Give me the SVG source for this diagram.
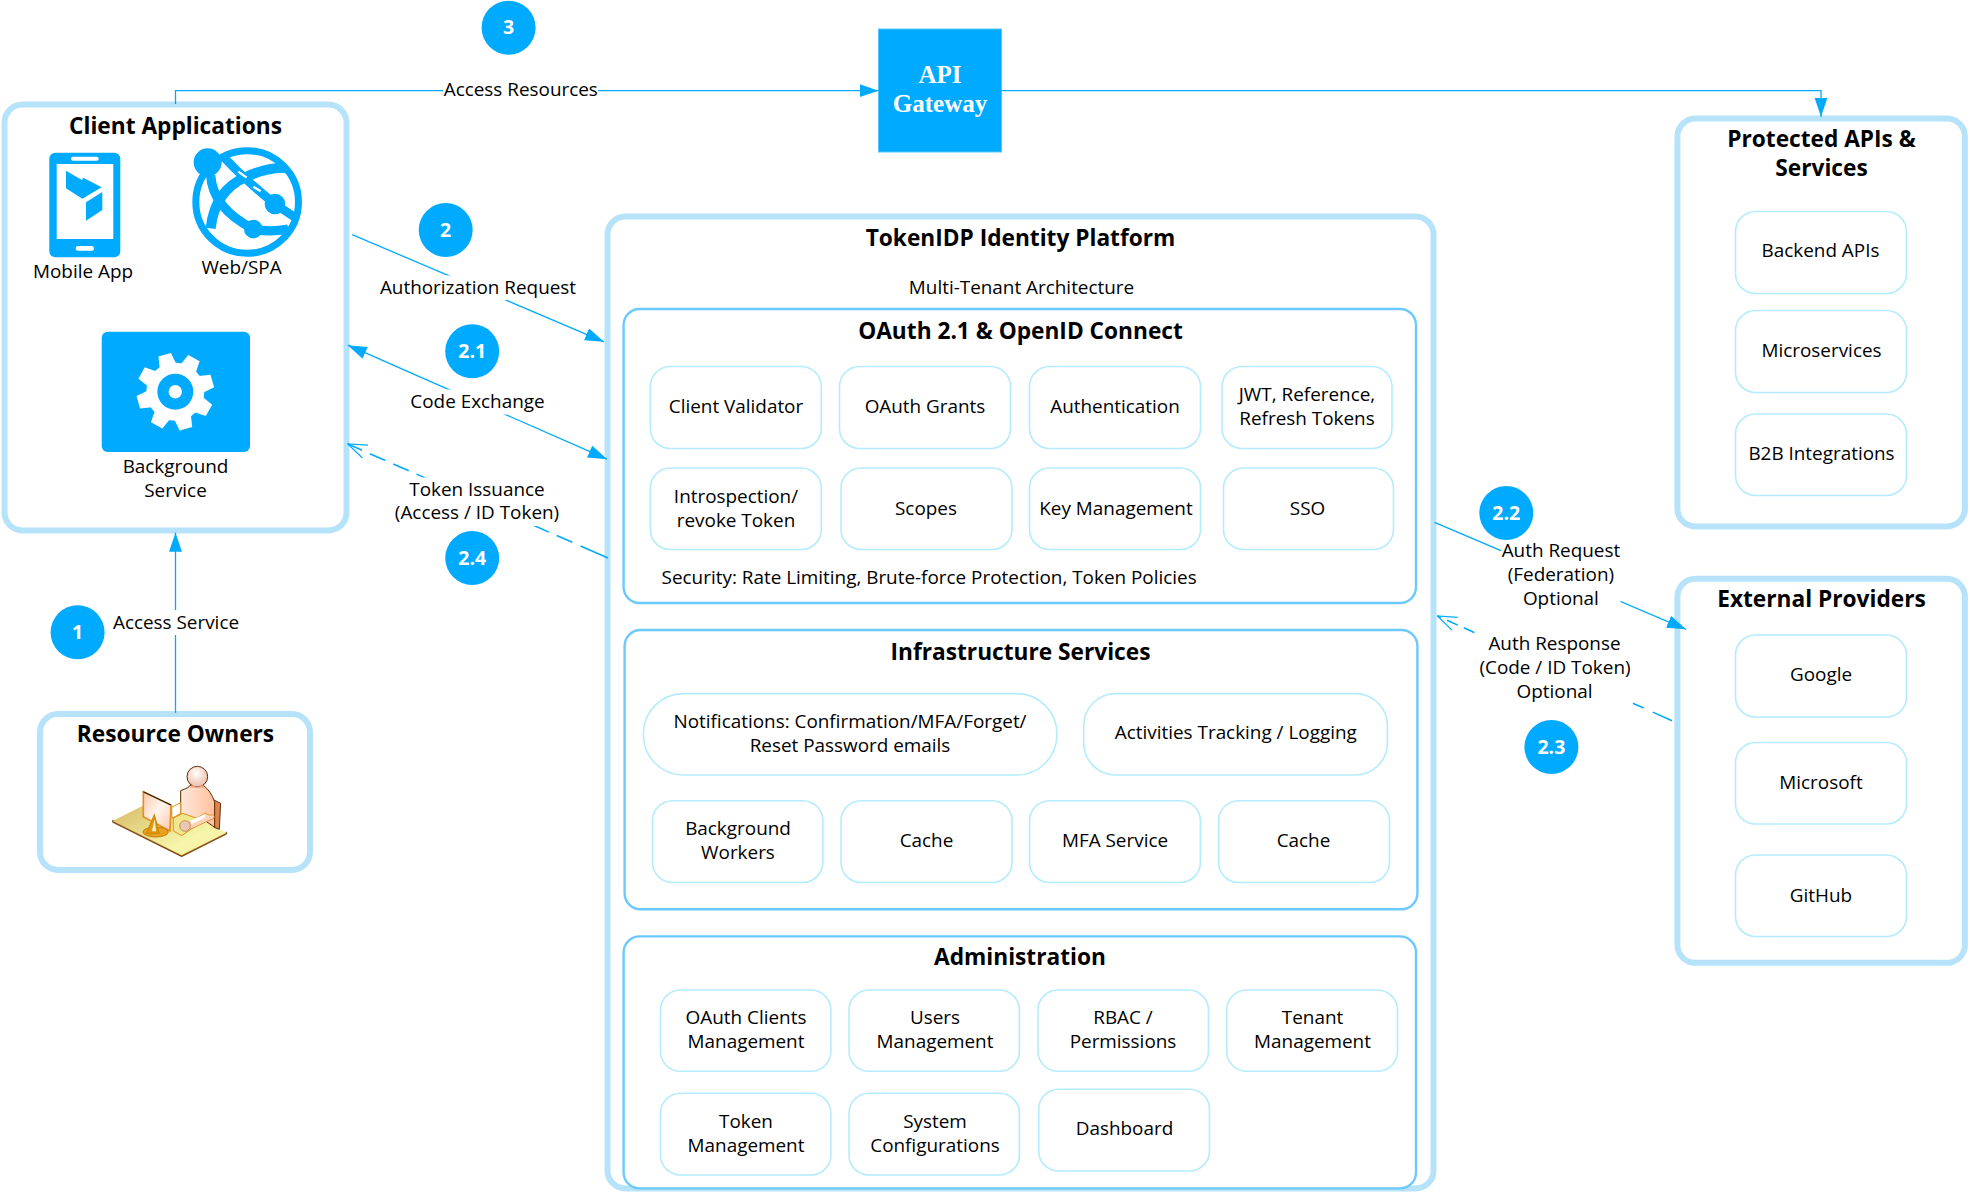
<svg xmlns="http://www.w3.org/2000/svg" width="1970" height="1192" viewBox="0 0 1970 1192">
<style>
text{font-family:"Open Sans","Noto Sans","Liberation Sans",sans-serif;fill:#000;text-anchor:middle}
.t{font-size:18.9px;transform:translateY(-.2px)}
.h{font-size:22.7px;font-weight:700}
.b{font-size:19.5px;font-weight:700;fill:#fff}
.g{font-family:"Liberation Serif",serif;font-size:25px;font-weight:700;fill:#fff}
.outer{fill:#fff;stroke:#B7E3FA;stroke-width:6}
.mid{fill:#fff;stroke:#6CC9FF;stroke-width:2.4}
.in{fill:#fff;stroke:#B5EBFF;stroke-width:1.6}
.c{fill:none;stroke:#00AAFF;stroke-width:1.3}
.d{stroke-width:1.6}
.lb{fill:#fff}
.bl{fill:#00AAFF}
.wh{fill:#fff}
</style>
<defs>
<marker id="a" markerUnits="userSpaceOnUse" markerWidth="20" markerHeight="14" refX="19" refY="6.5" orient="auto-start-reverse" viewBox="0 0 20 14"><path d="M0 0L19 6.5L0 13Z" fill="#00AAFF"/></marker>
<marker id="o" markerUnits="userSpaceOnUse" markerWidth="21" markerHeight="16" refX="20" refY="8" orient="auto" viewBox="0 0 21 16"><path d="M1 1L20 8L1 15" fill="none" stroke="#00AAFF" stroke-width="1.2"/></marker>
<linearGradient id="desk" x1="0" y1="0" x2="1" y2="1"><stop offset="0" stop-color="#D4B45E"/><stop offset=".7" stop-color="#F6F6AA"/><stop offset="1" stop-color="#F2EE9E"/></linearGradient>
<radialGradient id="head" cx=".45" cy=".35" r=".7"><stop offset="0" stop-color="#fff"/><stop offset="1" stop-color="#EBB8A0"/></radialGradient>
<linearGradient id="skin" x1="0" y1="0" x2="1" y2="0"><stop offset="0" stop-color="#FFE9DC"/><stop offset="1" stop-color="#FFC09C"/></linearGradient>
<linearGradient id="scr" x1="0" y1="0" x2="1" y2="1"><stop offset="0" stop-color="#FFC8A8"/><stop offset=".5" stop-color="#FFF4EE"/><stop offset="1" stop-color="#FFC8A8"/></linearGradient>
<polygon id="tooth" points="-8.5,-27 -6.5,-38.5 6.5,-38.5 8.5,-27" fill="#fff"/>
</defs>

<g id="client-applications">
<rect class="outer" x="4.5" y="104.5" width="342" height="426" rx="18"/>
<text class="h" x="175.5" y="134">Client Applications</text>
<g id="mobile-app">
<rect class="bl" x="49.3" y="152.7" width="71" height="104.6" rx="6"/>
<rect class="wh" x="56.7" y="164" width="56.6" height="75"/>
<rect class="wh" x="71" y="156.7" width="27.7" height="4" rx="2"/>
<rect class="wh" x="75.7" y="246" width="18.3" height="4.7" rx="2.3"/>
<polygon class="bl" points="66,170.7 82,180 83.3,177.7 101.7,187.3 82.3,198.7 66,188.3"/>
<polygon class="bl" points="102.3,192 102.3,210 86,220.7 86,202.3"/>
<text class="t" x="83" y="278">Mobile App</text>
</g>
<g id="web-spa">
<g transform="translate(20,130) scale(.3333)" fill="none" stroke="#00AAFF">
<circle cx="681.5" cy="216" r="154" stroke-width="21"/>
<path d="M572 135Q578 235 700 297Q750 308 805 297" stroke-width="28"/>
<path d="M612 82Q675 150 765 222L825 262" stroke-width="26"/>
<path d="M572 295Q585 180 680 140Q740 112 795 114" stroke-width="30"/>
<path d="M655 125l25 18M700 170l22 14" stroke="#fff" stroke-width="7"/>
<circle cx="563" cy="97" r="42" fill="#00AAFF" stroke="none"/>
<circle cx="765" cy="222" r="31" fill="#00AAFF" stroke="none"/>
<circle cx="700" cy="297" r="28" fill="#00AAFF" stroke="none"/>
</g>
<text class="t" x="241.5" y="274">Web/SPA</text>
</g>
<g id="background-service">
<rect class="bl" x="101.7" y="331.7" width="148.3" height="120.3" rx="6"/>
<g transform="translate(175.3,391.7)">
<circle class="wh" r="29"/>
<use href="#tooth" transform="rotate(-16)"/><use href="#tooth" transform="rotate(29)"/><use href="#tooth" transform="rotate(74)"/><use href="#tooth" transform="rotate(119)"/><use href="#tooth" transform="rotate(164)"/><use href="#tooth" transform="rotate(209)"/><use href="#tooth" transform="rotate(254)"/><use href="#tooth" transform="rotate(299)"/>
<circle class="bl" r="18"/><circle class="wh" r="6.7"/>
</g>
<text class="t" x="175.5" y="473.5">Background</text>
<text class="t" x="175.5" y="497.5">Service</text>
</g>
</g>

<g id="resource-owners">
<rect class="outer" x="40" y="714" width="270" height="156" rx="18"/>
<text class="h" x="175.5" y="742">Resource Owners</text>
<g transform="translate(90,750) scale(.3333)">
<polygon points="68,217 275,320 410,252 410,246 275,313 68,211" fill="#A85E10" stroke="#4A2200" stroke-width="2"/>
<polygon points="68,213 203,145 410,248 275,316" fill="url(#desk)"/>
<polygon points="372,150 392,160 388,238 372,232" fill="#E0824A" stroke="#3A1A00" stroke-width="2.5"/>
<path d="M272 122Q300 112 300 106L340 106Q362 122 374 155L374 232L345 212L300 232L272 195Z" fill="url(#skin)" stroke="#5A2A00" stroke-width="3"/>
<path d="M245 172L272 158L272 190L246 205Z" fill="#fff" stroke="#E09020" stroke-width="3"/>
<path d="M250 205L278 190L340 212L275 257L250 243Z" fill="#F0E68C" stroke="#E09020" stroke-width="3"/>
<path d="M345 190L360 196Q375 190 372 205L300 238L290 222Z" fill="#FFD2BA" stroke="#E09020" stroke-width="2.5"/>
<path d="M300 212L345 193L345 203L305 222Z" fill="#fff"/>
<circle cx="285" cy="228" r="16" fill="#E8C8B0" stroke="#C08050" stroke-width="2.5"/>
<circle cx="322" cy="80" r="31" fill="url(#head)" stroke="#5A2A00" stroke-width="3"/>
<path d="M305 105Q322 115 340 105L342 113L300 113Z" fill="#F0A890"/>
<polygon points="160,125 243,165 240,243 160,200" fill="url(#scr)" stroke="#E09020" stroke-width="5"/>
<path d="M160 125L243 165" stroke="#222" stroke-width="3.5" fill="none"/>
<ellipse cx="197" cy="246" rx="38" ry="15" fill="#E8A020" stroke="#C07A00" stroke-width="3"/>
<path d="M170 250L193 195L207 250Z" fill="#E39A10" stroke="#D08800" stroke-width="4"/>
<path d="M186 244L194 208L198 244Z" fill="#FFF0D8"/>
</g>
</g>

<g id="api-gateway">
<rect x="878.5" y="29" width="123" height="123" fill="#00AAFF" stroke="#55C5FF" stroke-width="1"/>
<text class="g" x="940" y="82.5">API</text>
<text class="g" x="940" y="112">Gateway</text>
</g>

<g id="protected-apis">
<rect class="outer" x="1677.4" y="118.5" width="287.5" height="408" rx="18"/>
<text class="h" x="1821.5" y="146.7">Protected APIs &amp;</text>
<text class="h" x="1821.5" y="176">Services</text>
<g id="backend-apis"><rect class="in" x="1735.5" y="211.5" width="171" height="82" rx="20"/><text class="t" x="1820.5" y="257">Backend APIs</text></g>
<g id="microservices"><rect class="in" x="1735.5" y="310.5" width="171" height="82" rx="20"/><text class="t" x="1821.5" y="357">Microservices</text></g>
<g id="b2b"><rect class="in" x="1735.5" y="414" width="171" height="81.5" rx="20"/><text class="t" x="1821.5" y="460.5">B2B Integrations</text></g>
</g>

<g id="external-providers">
<rect class="outer" x="1677.4" y="578.8" width="287.5" height="384" rx="18"/>
<text class="h" x="1821.5" y="607.3">External Providers</text>
<g id="google"><rect class="in" x="1735.5" y="635" width="171" height="82" rx="20"/><text class="t" x="1821" y="681.7">Google</text></g>
<g id="microsoft"><rect class="in" x="1735.5" y="742.5" width="171" height="81.5" rx="20"/><text class="t" x="1821" y="789">Microsoft</text></g>
<g id="github"><rect class="in" x="1735.5" y="855" width="171" height="81.5" rx="20"/><text class="t" x="1821" y="902">GitHub</text></g>
</g>

<g id="tokenidp-platform">
<rect class="outer" x="607.5" y="216.5" width="826" height="972" rx="18"/>
<text class="h" x="1020.5" y="245.8">TokenIDP Identity Platform</text>
<text class="t" x="1021.5" y="294.5">Multi-Tenant Architecture</text>
<g id="oauth">
<rect class="mid" x="623.6" y="309" width="792.4" height="294" rx="16"/>
<text class="h" x="1020.5" y="338.7">OAuth 2.1 &amp; OpenID Connect</text>
<g id="client-validator"><rect class="in" x="650.3" y="366.5" width="171" height="82" rx="20"/><text class="t" x="736" y="413">Client Validator</text></g>
<g id="oauth-grants"><rect class="in" x="839.5" y="366.5" width="171" height="82" rx="20"/><text class="t" x="925" y="413">OAuth Grants</text></g>
<g id="authentication"><rect class="in" x="1029.5" y="366.5" width="171" height="82" rx="20"/><text class="t" x="1115" y="413">Authentication</text></g>
<g id="tokens"><rect class="in" x="1222" y="366.5" width="170" height="82" rx="20"/><text class="t" x="1307" y="401">JWT, Reference,</text><text class="t" x="1307" y="425">Refresh Tokens</text></g>
<g id="introspection"><rect class="in" x="650.3" y="468" width="171" height="81.5" rx="20"/><text class="t" x="736" y="503">Introspection/</text><text class="t" x="736" y="527">revoke Token</text></g>
<g id="scopes"><rect class="in" x="841" y="468" width="171" height="81.5" rx="20"/><text class="t" x="926" y="515">Scopes</text></g>
<g id="key-management"><rect class="in" x="1029.5" y="468" width="171" height="81.5" rx="20"/><text class="t" x="1116" y="515">Key Management</text></g>
<g id="sso"><rect class="in" x="1223.5" y="468" width="170" height="81.5" rx="20"/><text class="t" x="1307.5" y="515">SSO</text></g>
<text class="t" x="661.6" y="584" style="text-anchor:start">Security: Rate Limiting, Brute-force Protection, Token Policies</text>
</g>
<g id="infrastructure">
<rect class="mid" x="624.6" y="630" width="792.8" height="279.3" rx="16"/>
<text class="h" x="1020.5" y="660">Infrastructure Services</text>
<g id="notifications"><rect class="in" x="643.4" y="693.6" width="413.5" height="81.4" rx="40"/><text class="t" x="850" y="728">Notifications: Confirmation/MFA/Forget/</text><text class="t" x="850" y="752">Reset Password emails</text></g>
<g id="activities"><rect class="in" x="1083.7" y="693.6" width="303.7" height="81.4" rx="32"/><text class="t" x="1235.8" y="739.5">Activities Tracking / Logging</text></g>
<g id="background-workers"><rect class="in" x="652.5" y="800.7" width="170.3" height="81.8" rx="20"/><text class="t" x="738" y="835">Background</text><text class="t" x="738" y="859">Workers</text></g>
<g id="cache-1"><rect class="in" x="841" y="800.7" width="171" height="81.8" rx="20"/><text class="t" x="926.5" y="847">Cache</text></g>
<g id="mfa-service"><rect class="in" x="1029.6" y="800.7" width="170.8" height="81.8" rx="20"/><text class="t" x="1115" y="847">MFA Service</text></g>
<g id="cache-2"><rect class="in" x="1218.6" y="800.7" width="170.9" height="81.8" rx="20"/><text class="t" x="1303.5" y="847">Cache</text></g>
</g>
<g id="administration">
<rect class="mid" x="623.6" y="936.4" width="792.4" height="252" rx="16"/>
<text class="h" x="1020" y="965">Administration</text>
<g id="oauth-clients"><rect class="in" x="660.5" y="990" width="170.4" height="81.3" rx="20"/><text class="t" x="746" y="1024">OAuth Clients</text><text class="t" x="746" y="1048">Management</text></g>
<g id="users"><rect class="in" x="849" y="990" width="170.4" height="81.3" rx="20"/><text class="t" x="935" y="1024">Users</text><text class="t" x="935" y="1048">Management</text></g>
<g id="rbac"><rect class="in" x="1038" y="990" width="170.5" height="81.3" rx="20"/><text class="t" x="1123" y="1024">RBAC /</text><text class="t" x="1123" y="1048">Permissions</text></g>
<g id="tenant"><rect class="in" x="1226.7" y="990" width="170.8" height="81.3" rx="20"/><text class="t" x="1312.5" y="1024">Tenant</text><text class="t" x="1312.5" y="1048">Management</text></g>
<g id="token-management"><rect class="in" x="660.5" y="1093.3" width="170.4" height="81.7" rx="20"/><text class="t" x="746" y="1128">Token</text><text class="t" x="746" y="1152">Management</text></g>
<g id="system-config"><rect class="in" x="849" y="1093.3" width="170.4" height="81.7" rx="20"/><text class="t" x="935" y="1128">System</text><text class="t" x="935" y="1152">Configurations</text></g>
<g id="dashboard"><rect class="in" x="1038.7" y="1089.2" width="170.8" height="81.8" rx="20"/><text class="t" x="1124.5" y="1135">Dashboard</text></g>
</g>
</g>

<g id="connectors">
<path class="c" d="M175.5 104V90.7H878.5" marker-end="url(#a)"/>
<path class="c" d="M1001.5 90.7H1821V116.7" marker-end="url(#a)"/>
<path class="c" d="M175.5 713V532.7" marker-end="url(#a)"/>
<path class="c" d="M352.2 234.6L604 341.8" marker-end="url(#a)"/>
<path class="c" d="M347.8 345.2L607 459.2" marker-start="url(#a)" marker-end="url(#a)"/>
<path class="c d" d="M608 558L347.8 444" marker-end="url(#o)" stroke-dasharray="30 9 17 8.5 17 8.5 17 8.5 17 8.5 17 8.5 17 8.5 17 8.5 17 8.5 17 8.5 17 8.5 17 8.5"/>
<path class="c" d="M1434.5 522.3L1686 629.3" marker-end="url(#a)"/>
<path class="c d" d="M1672 720.7L1437.4 616" marker-end="url(#o)" stroke-dasharray="21 10 12 6.5 12 6.5 12 6.5 12 6.5 12 6.5 12 6.5 12 6.5 12 6.5 12 6.5 12 6.5 12 6.5 12 6.5"/>
<rect class="lb" x="443" y="80" width="155" height="24"/>
<rect class="lb" x="110" y="610" width="132" height="25"/>
<rect class="lb" x="379" y="275.5" width="198" height="24.5"/>
<rect class="lb" x="408" y="389.5" width="140" height="25"/>
<rect class="lb" x="393" y="477.5" width="168" height="48.5"/>
<rect class="lb" x="1501" y="540" width="119.5" height="72"/>
<rect class="lb" x="1474.5" y="630" width="158" height="76"/>
<text class="t" x="520.8" y="96.5">Access Resources</text>
<text class="t" x="176" y="629">Access Service</text>
<text class="t" x="478" y="294.7">Authorization Request</text>
<text class="t" x="477.5" y="408.7">Code Exchange</text>
<text class="t" x="477" y="496">Token Issuance</text>
<text class="t" x="477" y="519.7">(Access / ID Token)</text>
<text class="t" x="1560.9" y="557.7">Auth Request</text>
<text class="t" x="1560.9" y="581.7">(Federation)</text>
<text class="t" x="1560.9" y="605.7">Optional</text>
<text class="t" x="1554.5" y="650">Auth Response</text>
<text class="t" x="1555" y="674.3">(Code / ID Token)</text>
<text class="t" x="1554.5" y="698.3">Optional</text>
</g>

<g id="step-3"><circle class="bl" cx="508.6" cy="27.7" r="27"/><text class="b" x="508.6" y="34.4">3</text></g>
<g id="step-2"><circle class="bl" cx="445.7" cy="230" r="27"/><text class="b" x="445.7" y="236.7">2</text></g>
<g id="step-2-1"><circle class="bl" cx="472.2" cy="351.3" r="27"/><text class="b" x="472.2" y="358">2.1</text></g>
<g id="step-2-4"><circle class="bl" cx="472.2" cy="558" r="27"/><text class="b" x="472.2" y="564.7">2.4</text></g>
<g id="step-1"><circle class="bl" cx="77.6" cy="632.3" r="27"/><text class="b" x="77.6" y="639">1</text></g>
<g id="step-2-2"><circle class="bl" cx="1506.3" cy="513" r="27"/><text class="b" x="1506.3" y="519.7">2.2</text></g>
<g id="step-2-3"><circle class="bl" cx="1551.4" cy="747" r="27"/><text class="b" x="1551.4" y="753.7">2.3</text></g>
</svg>
